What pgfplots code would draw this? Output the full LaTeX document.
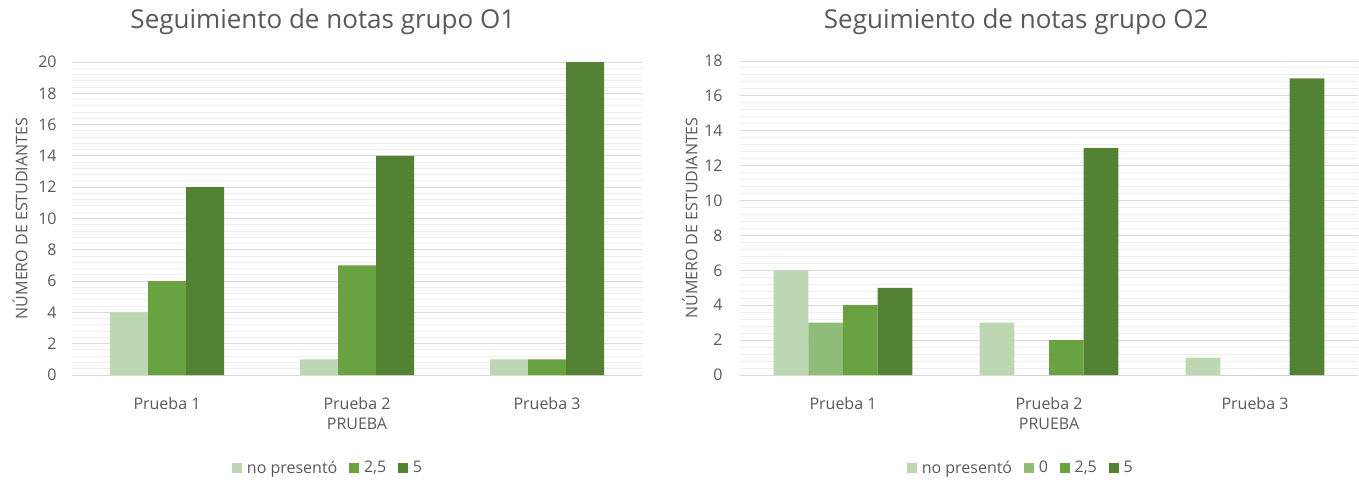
\documentclass[border=0pt]{standalone}
\usepackage{fontspec}
\setmainfont{Open Sans}
\usepackage{pgfplots}
\pgfplotsset{compat=1.18}
\definecolor{cA}{HTML}{BDD7B3}
\definecolor{cB}{HTML}{8FBC78}
\definecolor{cC}{HTML}{68A241}
\definecolor{cD}{HTML}{548235}
\definecolor{txt}{HTML}{595959}
\definecolor{gmaj}{HTML}{D9D9D9}
\definecolor{gmin}{HTML}{EEEEEE}
\pgfplotsset{
  common/.style={
    scale only axis, ybar=0pt, ymin=0, xmin=-0.5, xmax=2.5,
    xtick={0,1,2}, xticklabels={Prueba 1,Prueba 2,Prueba 3},
    ytick distance=2, minor y tick num=4,
    ymajorgrids, yminorgrids,
    major grid style={gmaj, line width=0.75pt},
    minor grid style={gmin, line width=0.75pt},
    axis line style={draw=none}, tick style={draw=none},
    tick label style={font=\fontsize{12}{14}\selectfont, text=txt},
    /pgf/number format/assume math mode=true,
    xticklabel style={anchor=center, yshift=-17pt},
    label style={font=\fontsize{12}{14}\selectfont, text=txt},
    xlabel={PRUEBA}, ylabel={NÚMERO DE ESTUDIANTES},
    xlabel style={at={(0.5,0)}, anchor=center, yshift=-36.5pt},
    title style={font=\fontsize{19.5}{22}\selectfont, text=txt, anchor=center},
    legend columns=-1,
    legend style={draw=none, fill=none, font=\fontsize{12}{14}\selectfont, text=txt, anchor=center,
      /tikz/every even column/.append style={column sep=7pt}},
    legend image code/.code={\fill[#1] (0pt,-3.5pt) rectangle (7.5pt,4pt); \path (0pt,0pt) -- (9pt,0pt);},
    every axis plot/.append style={draw=none},
  }
}
\begin{document}
\begin{tikzpicture}
\path[use as bounding box] (0,0) rectangle (1019.25pt,362.25pt);
\begin{axis}[common, at={(54pt,81pt)}, anchor=south west,
  width=427.5pt, height=234.75pt, ymax=20, bar width=28.5pt,
  yticklabel style={xshift=-8pt},
  ylabel style={at={(-0.091,0.5)}, anchor=center},
  title={Seguimiento de notas grupo O1}, title style={at={(0.44,1.102)}},
  legend style={at={(0.45,-0.297)}}]
\addplot[fill=cA] coordinates {(0,4) (1,1) (2,1)};
\addplot[fill=cC] coordinates {(0,6) (1,7) (2,1)};
\addplot[fill=cD] coordinates {(0,12) (1,14) (2,20)};
\legend{no presentó,2{,}5,5}
\end{axis}
\begin{axis}[common, at={(555pt,81pt)}, anchor=south west,
  width=463.5pt, height=235.5pt, ymax=18, bar width=26pt,
  yticklabel style={xshift=-9.5pt},
  ylabel style={at={(-0.081,0.5)}, anchor=center},
  title={Seguimiento de notas grupo O2}, title style={at={(0.447,1.099)}},
  legend style={at={(0.455,-0.296)}}]
\addplot[fill=cA] coordinates {(0,6) (1,3) (2,1)};
\addplot[fill=cB] coordinates {(0,3) (1,0) (2,0)};
\addplot[fill=cC] coordinates {(0,4) (1,2) (2,0)};
\addplot[fill=cD] coordinates {(0,5) (1,13) (2,17)};
\legend{no presentó,0,2{,}5,5}
\end{axis}
\end{tikzpicture}
\end{document}
